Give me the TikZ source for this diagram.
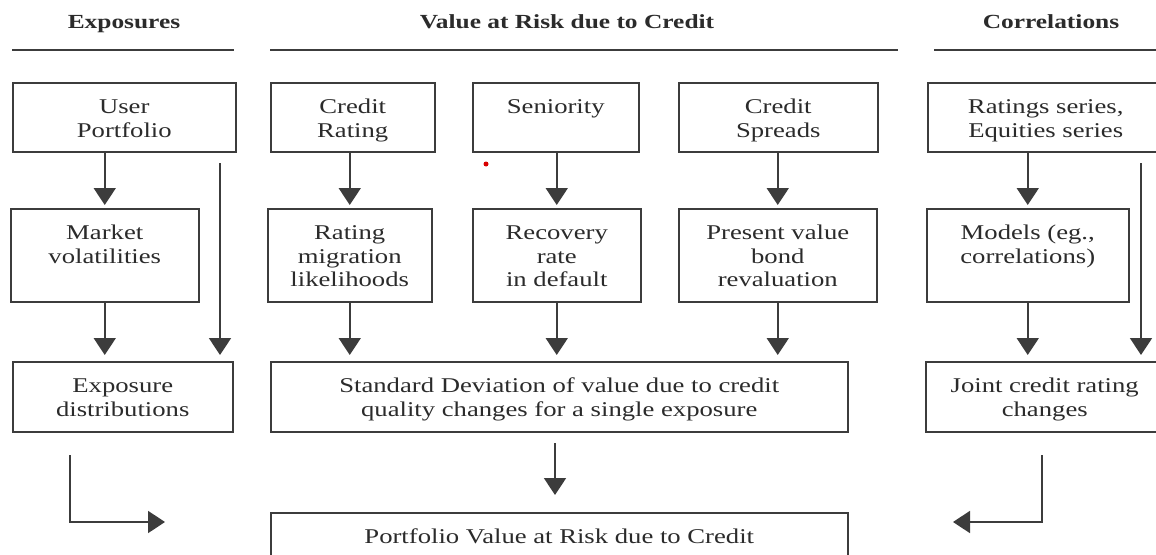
\documentclass[tikz,border=0pt]{standalone}
\usepackage{fontspec}
\setmainfont{Liberation Serif}[FakeStretch=1.27]
\usetikzlibrary{arrows.meta}

\definecolor{linec}{HTML}{3C3C3C}
\definecolor{textc}{HTML}{2B2B2B}

% box content: width, height, lines (top aligned, centred)
\newcommand{\boxtext}[3]{\parbox[c][#2pt][t]{#1pt}{\centering\rule{0pt}{31pt}#3}}

\begin{document}
\begin{tikzpicture}[x=1pt,y=-1pt,
  box/.style={draw=linec, line width=1.5pt, inner sep=0pt, anchor=north west,
    text=textc, font=\fontsize{21}{23.5}\selectfont},
  arr/.style={draw=linec, line width=1.8pt, -{Triangle[width=22pt,length=17pt]}},
  head/.style={anchor=base, text=textc, font=\bfseries\fontsize{20}{22}\selectfont},
  hrule/.style={draw=linec, line width=2.8pt}]

\fill[white] (0,0) rectangle (1156,554);
\clip (0,0) rectangle (1156,554);

% column headings
\node[head] (h1) at (124,28) {Exposures};
\node[head] (h2) at (567,28) {Value at Risk due to Credit};
\node[head] (h3) at (1051,28) {Correlations};
\draw[hrule] (12,50) -- (234,50);
\draw[hrule] (270,50) -- (898,50);
\draw[hrule] (934,50) -- (1160,50);

% first row: inputs
\node[box] (up) at (12,82)  {\boxtext{223}{69}{User\\Portfolio}};
\node[box] (cr) at (270,82) {\boxtext{164}{69}{Credit\\Rating}};
\node[box] (sn) at (472,82) {\boxtext{166}{69}{Seniority}};
\node[box] (cs) at (678,82) {\boxtext{199}{69}{Credit\\Spreads}};
\node[box] (rs) at (927,82) {\boxtext{236}{69}{Ratings series,\\Equities series}};

% second row: models
\node[box] (mv) at (10,208)  {\boxtext{188}{93}{Market\\volatilities}};
\node[box] (rm) at (267,208) {\boxtext{164}{93}{Rating\\migration\\likelihoods}};
\node[box] (rr) at (472,208) {\boxtext{168}{93}{Recovery\\rate\\in default}};
\node[box] (pv) at (678,208) {\boxtext{198}{93}{Present value\\bond\\revaluation}};
\node[box] (mo) at (926,208) {\boxtext{202}{93}{Models (eg.,\\correlations)}};

% third row: results per column
\node[box] (ed) at (12,361)  {\boxtext{220}{70}{Exposure\\distributions}};
\node[box] (sd) at (270,361) {\boxtext{577}{70}{Standard Deviation of value due to credit\\quality changes for a single exposure}};
\node[box] (jc) at (925,361) {\boxtext{238}{70}{Joint credit rating\\changes}};

% final result
\node[box] (pf) at (270,512) {\boxtext{577}{70}{Portfolio Value at Risk due to Credit}};

% connectors row 1 -> row 2
\draw[arr, shorten >=3pt] (up.south -| mv.north) -- (mv.north);
\draw[arr, shorten >=3pt] (cr.south -| rm.north) -- (rm.north);
\draw[arr, shorten >=3pt] (sn.south -| rr.north) -- (rr.north);
\draw[arr, shorten >=3pt] (cs.south -| pv.north) -- (pv.north);
\draw[arr, shorten >=3pt] (rs.south -| mo.north) -- (mo.north);

% connectors row 2 -> row 3
\coordinate (lt) at (220,163);
\coordinate (rt) at (1141,163);
\draw[arr, shorten >=6pt] (mv.south) -- (mv.south |- ed.north);
\draw[arr, shorten >=6pt] (lt) -- (lt |- ed.north);
\draw[arr, shorten >=6pt] (rm.south) -- (rm.south |- sd.north);
\draw[arr, shorten >=6pt] (rr.south) -- (rr.south |- sd.north);
\draw[arr, shorten >=6pt] (pv.south) -- (pv.south |- sd.north);
\draw[arr, shorten >=6pt] (mo.south) -- (mo.south |- jc.north);
\draw[arr, shorten >=6pt] (rt) -- (rt |- jc.north);

% connectors into the final result
\coordinate (sdout) at (555,443);
\draw[arr, shorten >=17pt] (sdout) -- (sdout |- pf.north);
\coordinate (le) at (70,455);
\coordinate (leend) at (165,522);
\draw[arr] (le) |- (leend);
\coordinate (re) at (1042,455);
\coordinate (reend) at (953,522);
\draw[arr] (re) |- (reend);

% stray red mark
\fill[red!85!black] (486,164) circle (2.5pt);
\end{tikzpicture}
\end{document}
